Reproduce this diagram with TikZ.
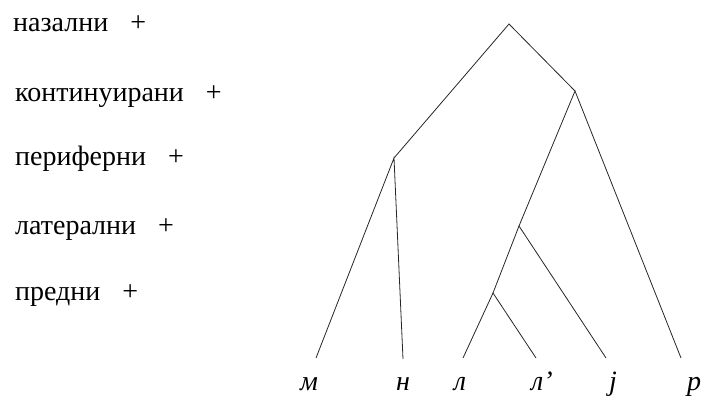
\documentclass[tikz,border=0pt]{standalone}
\usepackage{fontspec}
\setmainfont{Liberation Serif}
\begin{document}
\begin{tikzpicture}[x=1pt,y=1pt,
  feat/.style={anchor=base west,inner sep=0pt,font=\fontsize{28}{28}\selectfont},
  leaf/.style={anchor=base,inner sep=0pt,font=\fontsize{28}{28}\selectfont\itshape},
  br/.style={line width=0.8pt,draw=black!85}]
\useasboundingbox (0,0) rectangle (705,397);
% feature labels
\node[feat] (f1) at (13,365) {назални\hspace{22pt}+};
\node[feat] (f2) at (15,295) {континуирани\hspace{22pt}+};
\node[feat] (f3) at (15,231) {периферни\hspace{22pt}+};
\node[feat] (f4) at (15,162) {латерални\hspace{22pt}+};
\node[feat] (f5) at (15,97) {предни\hspace{22pt}+};
% tree
\coordinate (root) at (509,373);
\coordinate (L) at (394,239);
\coordinate (R) at (575,306);
\coordinate (RL) at (519,171);
\coordinate (RLL) at (493,104);
\coordinate (em) at (316,39);
\coordinate (en) at (403,38);
\coordinate (el) at (463,39);
\coordinate (elj) at (536,39);
\coordinate (ej) at (606,39);
\coordinate (er) at (681,39);
\draw[br] (L) -- (root) -- (R);
\draw[br] (em) -- (L) -- (en);
\draw[br] (RL) -- (R) -- (er);
\draw[br] (RLL) -- (RL) -- (ej);
\draw[br] (el) -- (RLL) -- (elj);
% leaves
\node[leaf] (m) at (309,7) {м};
\node[leaf] (n) at (403,7) {н};
\node[leaf] (l) at (460,7) {л};
\node[leaf,anchor=base west] (lj) at (531,7) {л’};
\node[leaf] (j) at (613,7) {j};
\node[leaf] (r) at (694,7) {р};
\end{tikzpicture}
\end{document}
